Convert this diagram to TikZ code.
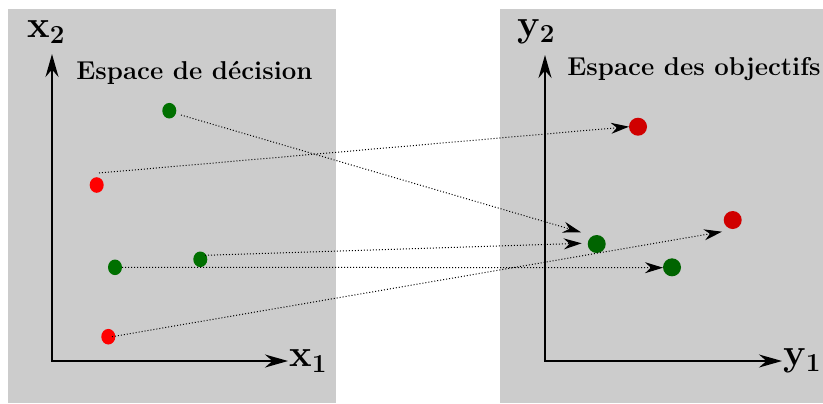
\documentclass[tikz,border=0pt]{standalone}
\usetikzlibrary{arrows.meta,shapes.geometric}
\definecolor{panel}{RGB}{204,204,204}
\definecolor{lgreen}{RGB}{0,112,0}
\definecolor{rgreen}{RGB}{0,100,0}
\definecolor{lred}{RGB}{255,0,0}
\definecolor{rred}{RGB}{208,0,0}
\begin{document}
\begin{tikzpicture}[x=0.5pt,y=-0.5pt,
 axis/.style={line width=1pt,{Stealth[length=11.5pt,width=6.5pt]}-{Stealth[length=11.5pt,width=6.5pt]}},
 link/.style={line width=0.5pt,densely dotted,-{Stealth[length=9pt,width=5.5pt]}},
 ldot/.style={ellipse,inner sep=0pt,minimum width=7pt,minimum height=7.8pt},
 rdot/.style={circle,inner sep=0pt,minimum size=9pt},
 axlabel/.style={font=\fontsize{19}{23}\selectfont\bfseries,inner sep=0pt,anchor=base west},
 title/.style={font=\fontsize{12.9}{15}\selectfont\bfseries,inner sep=0pt,anchor=base west}]
\useasboundingbox (0,0) rectangle (823,403);
\fill[panel] (8,9) rectangle (336,403);
\fill[panel] (500,9) rectangle (823,403);
% axes
\coordinate (lo) at (52,361);
\coordinate (lxt) at (288,361);
\coordinate (lyt) at (52,54);
\coordinate (ro) at (545,361);
\coordinate (rxt) at (782,361);
\coordinate (ryt) at (545,55);
\draw[axis] (lyt) |- (lxt);
\draw[axis] (ryt) |- (rxt);
% labels
\node[axlabel] (lx2) at (27,37) {x\raisebox{-3pt}{\fontsize{13}{15}\selectfont 2}};
\node[axlabel] (lx1) at (289,366) {x\raisebox{-3pt}{\fontsize{13}{15}\selectfont 1}};
\node[axlabel] (ry2) at (517,36) {y\raisebox{-3pt}{\fontsize{13}{15}\selectfont 2}};
\node[axlabel] (ry1) at (783,365) {y\raisebox{-3pt}{\fontsize{13}{15}\selectfont 1}};
\node[title] (tl) at (76,79) {Espace de décision};
\node[title] (tr) at (567,75) {Espace des objectifs};
% points
\node[ldot,fill=lgreen] (g1) at (169.3,110.7) {};
\node[ldot,fill=lred] (r1) at (96.7,185) {};
\node[ldot,fill=lgreen] (g2) at (200.3,259.3) {};
\node[ldot,fill=lgreen] (g3) at (115,267.3) {};
\node[ldot,fill=lred] (r2) at (108.3,336.7) {};
\node[rdot,fill=rred] (a) at (638,126.7) {};
\node[rdot,fill=rgreen] (b) at (596.7,244) {};
\node[rdot,fill=rgreen] (c) at (672,267.3) {};
\node[rdot,fill=rred] (d) at (732.7,220) {};
% connector ends
\coordinate (s1) at (181,115);
\coordinate (e1) at (581,232.3);
\coordinate (s2) at (99,173);
\coordinate (e2) at (629,126.7);
\coordinate (s3) at (205,255.3);
\coordinate (e3) at (581.7,243.3);
\coordinate (s4) at (122,267.3);
\coordinate (e4) at (663,267.7);
\coordinate (s5) at (112,336.7);
\coordinate (e5) at (722,231.7);
\draw[link] (s1) -- (e1);
\draw[link] (s2) -- (e2);
\draw[link] (s3) -- (e3);
\draw[link] (s4) -- (e4);
\draw[link] (s5) -- (e5);
\end{tikzpicture}
\end{document}
